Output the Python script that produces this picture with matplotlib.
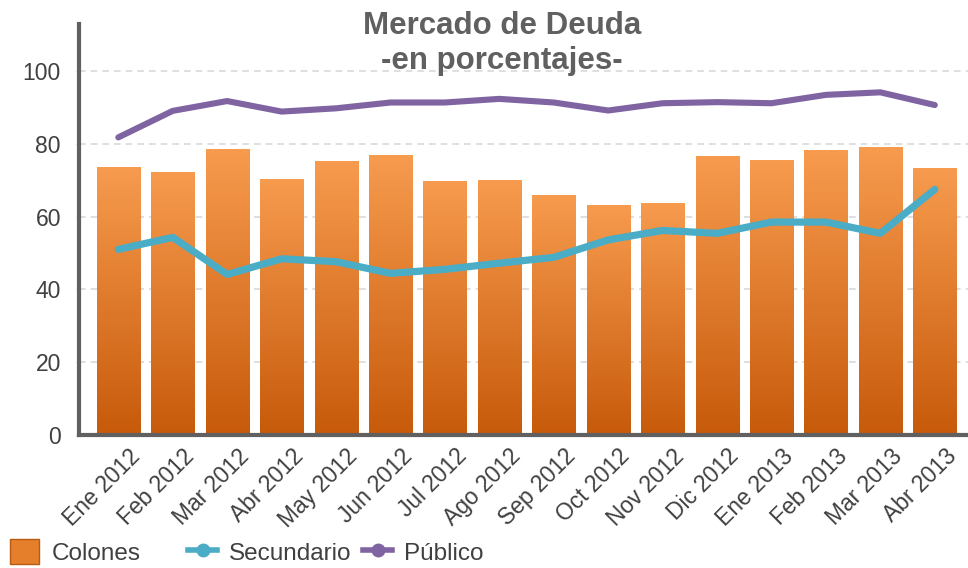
import matplotlib
matplotlib.use("Agg")
import matplotlib.pyplot as plt
import matplotlib.transforms as mtransforms
from matplotlib.colors import LinearSegmentedColormap
from matplotlib.patches import Patch
from matplotlib.lines import Line2D
import numpy as np

plt.rcParams['font.family'] = ['Liberation Sans', 'DejaVu Sans']

meses = ["Ene 2012", "Feb 2012", "Mar 2012", "Abr 2012", "May 2012", "Jun 2012",
         "Jul 2012", "Ago 2012", "Sep 2012", "Oct 2012", "Nov 2012", "Dic 2012",
         "Ene 2013", "Feb 2013", "Mar 2013", "Abr 2013"]
colones = [73.7, 72.3, 78.6, 70.4, 75.3, 77.0, 69.8, 70.1,
           66.0, 63.2, 63.8, 76.7, 75.6, 78.4, 79.2, 73.4]
secundario = [51.0, 54.3, 44.1, 48.4, 47.6, 44.4, 45.5, 47.2,
              48.8, 53.6, 56.2, 55.4, 58.5, 58.5, 55.4, 67.5]
publico = [81.8, 89.1, 91.8, 88.9, 89.8, 91.4, 91.4, 92.4,
           91.4, 89.2, 91.2, 91.5, 91.2, 93.5, 94.2, 90.7]

GRIS = "#606060"
TEXTO = "#404040"
NARANJA_TOP = "#F79B4E"
NARANJA_BOT = "#C75A0B"
AZUL = "#4BACC6"
MORADO = "#8064A2"

fig = plt.figure(figsize=(9.68, 5.68), dpi=100)
ax = fig.add_axes([79 / 968, (568 - 434.7) / 568, 1 - 79 / 968, (434.7 - 24) / 568])

x = np.arange(len(meses))
ancho = 0.79

# barras con degradado vertical
grad = LinearSegmentedColormap.from_list("naranja", [NARANJA_BOT, NARANJA_TOP])
bars = ax.bar(x, colones, width=ancho, color="none", edgecolor="none", zorder=2)
gimg = np.linspace(0, 1, 256).reshape(-1, 1)
for b in bars:
    x0, y0 = b.get_x(), b.get_y()
    w, h = b.get_width(), b.get_height()
    im = ax.imshow(gimg, cmap=grad, origin="lower", aspect="auto",
                   extent=[x0, x0 + w, y0, y0 + h], zorder=2)
    im.set_clip_path(b)

ax.plot(x, secundario, color=AZUL, lw=5.2, solid_capstyle="round",
        solid_joinstyle="round", zorder=4)
ax.plot(x, publico, color=MORADO, lw=4.4, solid_capstyle="round",
        solid_joinstyle="round", zorder=4)

ax.set_xlim(-0.722, 15.61)
ax.set_ylim(0, 113)
ax.set_yticks([0, 20, 40, 60, 80, 100])
ax.yaxis.grid(True, color="#d9d9d9", ls=(0, (4, 3)), lw=1.2, zorder=0)
ax.set_axisbelow(True)

for s in ["top", "right"]:
    ax.spines[s].set_visible(False)
for s in ["left", "bottom"]:
    ax.spines[s].set_color(GRIS)
    ax.spines[s].set_linewidth(3.0)
    ax.spines[s].set_zorder(5)

ax.tick_params(axis="y", length=2, color="#d0d0d0", pad=11, labelsize=16.5, labelcolor=TEXTO)
ax.tick_params(axis="x", length=0, pad=0, labelsize=16.5, labelcolor=TEXTO)
ax.set_xticks(x)
ax.set_xticklabels(meses, rotation=45, ha="right", va="top", rotation_mode="anchor")
offset = mtransforms.ScaledTranslation(0.10, -0.10, fig.dpi_scale_trans)
for lbl in ax.get_xticklabels():
    lbl.set_transform(lbl.get_transform() + offset)

fig.text(502 / 968, 1 - 11 / 568, "Mercado de Deuda\n-en porcentajes-", ha="center", va="top",
         fontsize=22.5, fontweight="bold", color=GRIS, linespacing=1.2)

# leyenda
entradas = [
    (Patch(facecolor="#E57F2C", edgecolor="#B85A10"), "Colones", 10),
    (Line2D([], [], color=AZUL, lw=4, marker="o", markersize=9), "Secundario", 188),
    (Line2D([], [], color=MORADO, lw=4, marker="o", markersize=9), "Público", 363),
]
for h, txt, px in entradas:
    fig.legend([h], [txt], loc="center left", bbox_to_anchor=(px / 968, 16 / 568),
               frameon=False, fontsize=17.5, labelcolor=TEXTO, handlelength=1.2,
               handleheight=1.2, handletextpad=0.5, borderpad=0, borderaxespad=0)

fig.savefig("out.png", dpi=100)
